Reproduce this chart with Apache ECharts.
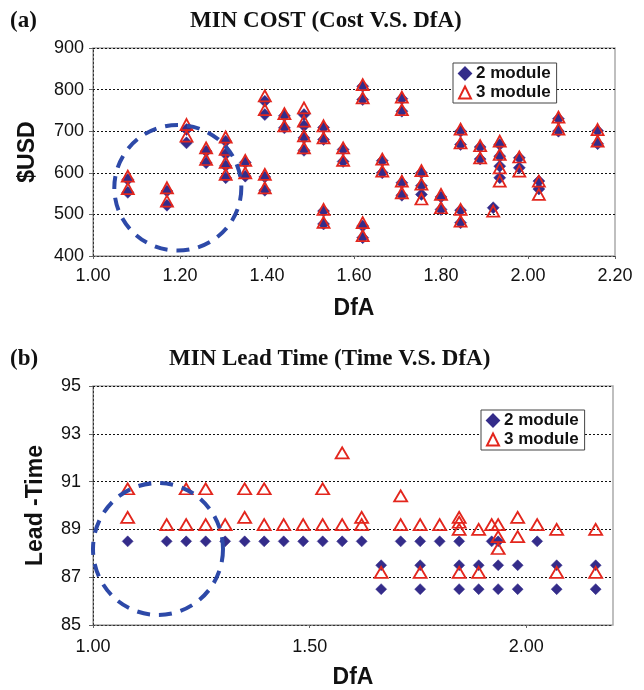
<!DOCTYPE html>
<html>
<head>
<meta charset="utf-8">
<script src="https://cdn.jsdelivr.net/npm/echarts@6/dist/echarts.min.js"></script>
<style>html,body{margin:0;padding:0;background:#fff}#c{width:644px;height:690px}</style>
</head>
<body>
<div id="c"></div>
<script>
// DfA categories (shared by both panels)
const dfa = [1.08, 1.17, 1.215, 1.26, 1.305, 1.35, 1.395, 1.44, 1.485, 1.53, 1.575, 1.62,
             1.665, 1.71, 1.755, 1.80, 1.845, 1.89, 1.92, 1.935, 1.98, 2.025, 2.07, 2.16];
// (a) cost, $USD
const cost2 = [[584,553],[556,522],[704,672],[652,624],[676,645,617,588],[625,592],
               [772,740,590,558],[737,708],[740,713,684,654],[709,680,508,477],[656,627],[808,776,472,444],
               [629,600],[778,748,576,546],[600,569,548],[542,512],[700,668,510,480],[662,633],
               [516],[668,640,616,588],[636,612],[580,561],[730,700],[701,670]];
const cost3 = [[592,562],[564,532],[716,688],[660,632],[686,656,625,596],[630,600],
               [785,752,596,564],[742,713],[756,724,689,660],[713,684,512,481],[660,630],[812,780,480,449],
               [633,604],[782,752,580,552],[605,573,537],[548,516],[705,672,512,484],[665,636],
               [508],[676,644,612,580],[638,604],[580,548],[734,705],[704,676]];
// (b) lead time
const time2 = [[88.5],[88.5],[88.5],[88.5],[88.5],[88.5],[88.5],[88.5],[88.5],[88.5],[88.5],[88.5],
               [87.5,86.5],[88.5],[88.5,87.5,86.5],[88.5],[88.5,87.5,86.5],[87.5,86.5],
               [88.5],[88.5,87.5,86.5],[87.5,86.5],[88.5],[87.5,86.5],[87.5,86.5]];
const time3 = [[90.7,89.5],[89.2],[90.7,89.2],[90.7,89.2],[89.2],[90.7,89.5],[90.7,89.2],[89.2],[89.2],
               [90.7,89.2],[92.2,89.2],[89.5,89.2],[87.2],[90.4,89.2],[89.2,87.2],[89.2],
               [89.5,89.3,89.0,87.2],[89.0,87.2],[89.2],[89.2,88.7,88.2],[89.5,88.7],[89.2],[89.0,87.2],[89.0,87.2]];
// tick values
const costTicks = {min: 400, max: 900, step: 100};
const dfaTicksA = {min: 1.0, max: 2.2, step: 0.2};
const timeTicks = {min: 85, max: 95, step: 2};
const dfaTicksB = {min: 1.0, max: 2.2, step: 0.5};
// dashed annotation rings (data units)
const ringA = {x: 1.195, y: 564, rx: 0.146, ry: 151};
const ringB = {x: 1.15, y: 88.18, rx: 0.15, ry: 2.76};

function pairs(xs, groups) {
  const out = [];
  groups.forEach((g, i) => g.forEach(v => out.push([xs[i], v])));
  return out;
}

const NAVY = '#342C8A', RED = '#E3261D', RING = '#2D49A8';
const SANS = 'Liberation Sans';
const SERIF = 'Liberation Serif';

function xAxis(t, grid, labelMargin) {
  return {
    type: 'value', gridIndex: grid, min: t.min, max: t.max, interval: t.step,
    name: 'DfA', nameLocation: 'middle', nameGap: 41,
    nameTextStyle: {fontFamily: SANS, fontWeight: 'bold', fontSize: 23, color: '#111'},
    axisLine: {show: true, lineStyle: {color: '#333', type: [2, 2], width: 1}},
    axisTick: {show: true, length: 3, lineStyle: {color: '#666'}},
    axisLabel: {fontFamily: SANS, fontSize: 18, color: '#111', margin: labelMargin,
                showMaxLabel: grid === 0, formatter: v => v.toFixed(2)},
    splitLine: {show: false}
  };
}
function yAxis(t, grid, name, gap, labelMargin) {
  return {
    type: 'value', gridIndex: grid, min: t.min, max: t.max, interval: t.step,
    name: name, nameLocation: 'middle', nameGap: gap, nameRotate: 90,
    nameTextStyle: {fontFamily: SANS, fontWeight: 'bold', fontSize: 23, color: '#111'},
    axisLine: {show: true, lineStyle: {color: '#333', type: [2, 2], width: 1}},
    axisTick: {show: true, length: 4, lineStyle: {color: '#666'}},
    axisLabel: {fontFamily: SANS, fontSize: 18, color: '#111', margin: labelMargin},
    splitLine: {show: true, lineStyle: {color: '#111', type: [2, 2], width: 1}}
  };
}
function legend(left, top) {
  return {
    data: ['2 module', '3 module'], orient: 'vertical', left: left, top: top,
    padding: [2, 6, 2, 5], itemGap: 2, itemWidth: 12, itemHeight: 12,
    backgroundColor: '#fff', borderColor: '#444', borderWidth: 1, borderRadius: 0,
    textStyle: {fontFamily: SANS, fontWeight: 'bold', fontSize: 17, color: '#111'},
    selectedMode: false
  };
}
const diamond = (name, xi, data, size) => ({
  name: name, type: 'scatter', xAxisIndex: xi, yAxisIndex: xi, data: data,
  symbol: 'diamond', symbolSize: size, z: 3,
  itemStyle: {color: NAVY, borderColor: NAVY, borderWidth: 0.5, opacity: 1}
});
const tri = (name, xi, data, size) => ({
  name: name, type: 'scatter', xAxisIndex: xi, yAxisIndex: xi, data: data,
  symbol: 'triangle', symbolSize: size, z: 4,
  itemStyle: {color: 'rgba(255,255,255,0)', borderColor: RED, borderWidth: 1.8, opacity: 1}
});

const titleStyle = {fontFamily: SERIF, fontWeight: 'bold', fontSize: 23, color: '#111'};
const chart = echarts.init(document.getElementById('c'), null, {renderer: 'canvas'});
chart.setOption({
  animation: false,
  backgroundColor: '#fff',
  title: [
    {text: '(a)', left: 10, top: 10, padding: 0, textStyle: titleStyle},
    {text: 'MIN COST (Cost V.S. DfA)', left: 190, top: 10, padding: 0, textStyle: titleStyle},
    {text: '(b)', left: 10, top: 348, padding: 0, textStyle: titleStyle},
    {text: 'MIN Lead Time (Time V.S. DfA)', left: 169, top: 348, padding: 0, textStyle: titleStyle}
  ],
  legend: [legend(453, 63), legend(481, 410)],
  grid: [
    {left: 93, top: 48, width: 522, height: 208, show: true, borderColor: '#aaa', borderWidth: 1.5, backgroundColor: '#fff'},
    {left: 93, top: 386, width: 520, height: 239, show: true, borderColor: '#aaa', borderWidth: 1.5, backgroundColor: '#fff'}
  ],
  xAxis: [xAxis(dfaTicksA, 0, 11), xAxis(dfaTicksB, 1, 13)],
  yAxis: [yAxis(costTicks, 0, '$USD', 54, 9), yAxis(timeTicks, 1, 'Lead -Time', 46, 12)],
  series: [
    diamond('2 module', 0, pairs(dfa, cost2), 12),
    tri('3 module', 0, pairs(dfa, cost3), [12, 11]),
    diamond('2 module', 1, pairs(dfa, time2), 11),
    tri('3 module', 1, pairs(dfa, time3), [13, 11])
  ]
});

function ring(gi, r) {
  const c = chart.convertToPixel({gridIndex: gi}, [r.x, r.y]);
  const px = chart.convertToPixel({gridIndex: gi}, [r.x + r.rx, r.y]);
  const py = chart.convertToPixel({gridIndex: gi}, [r.x, r.y + r.ry]);
  const rx = Math.abs(px[0] - c[0]), ry = Math.abs(c[1] - py[1]);
  return {
    type: 'circle', x: c[0], y: c[1], scaleY: ry / rx, z: 10,
    shape: {cx: 0, cy: 0, r: rx},
    style: {fill: 'none', stroke: RING, lineWidth: 4, lineDash: [13, 9], strokeNoScale: true},
    silent: true
  };
}
chart.setOption({graphic: [ring(0, ringA), ring(1, ringB)]});
</script>
</body>
</html>
